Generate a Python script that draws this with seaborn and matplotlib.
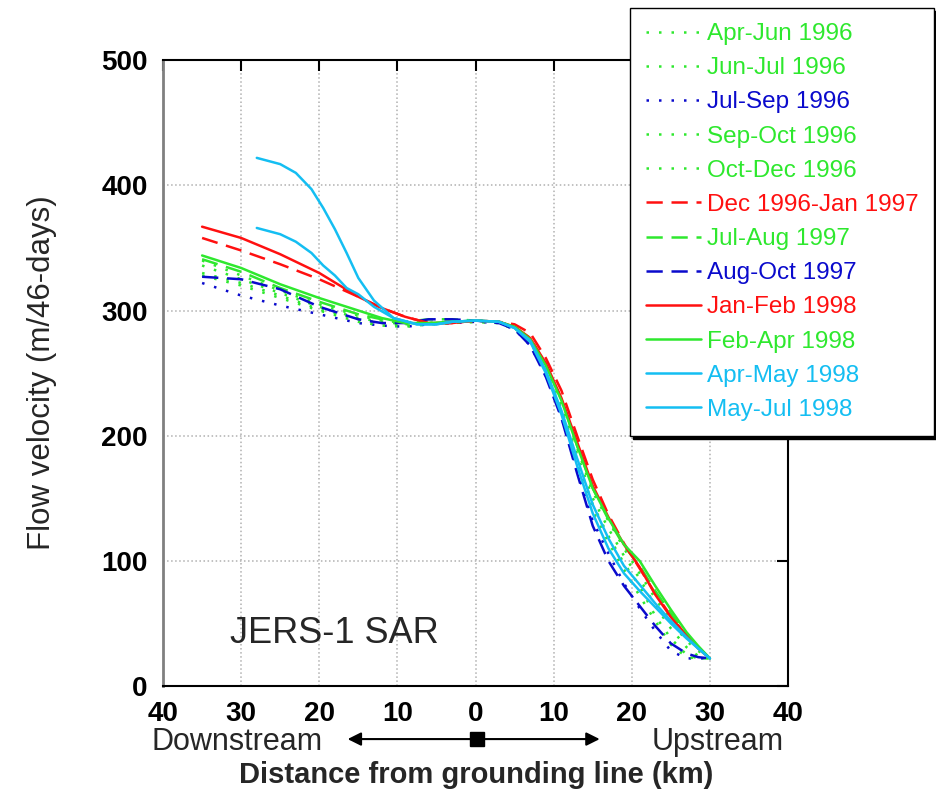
import pandas as pd
import seaborn as sns
import matplotlib.pyplot as plt
from matplotlib.ticker import FuncFormatter

# ---------------------------------------------------------------------
# data (x: km from grounding line, downstream < 0)
# ---------------------------------------------------------------------
X_MAIN = [-35, -30, -25, -20, -15, -12, -9, -6, -3, 0, 3, 5, 7, 9, 11,
          13, 15, 17, 19, 21, 23, 25, 27, 28.5, 30]
X_CYAN = [-28, -25, -23, -21, -19.5, -18, -16.5, -15, -13, -10.5, -7.5, -5,
          -3, 0, 3, 5, 7, 9, 11, 13, 15, 17, 19, 21, 23, 25, 27, 28.5, 30]

APR_JUN_1996 = [340, 328, 316, 305, 296, 292, 290, 290, 291, 292, 291, 286, 276,
                254, 224, 190, 155, 132, 110, 90, 70, 52, 36, 28, 22]
JUN_JUL_1996 = [330, 322, 312, 301, 293, 290, 288, 289, 290, 291, 290, 285, 273,
                249, 217, 180, 145, 120, 98, 80, 56, 38, 25, 22, 22]
JUL_SEP_1996 = [322, 312, 304, 297, 290, 288, 287, 289, 290, 291, 290, 285, 272,
                248, 215, 172, 132, 106, 82, 62, 44, 28, 22, 22, 22]
SEP_OCT_1996 = [336, 325, 314, 303, 294, 291, 289, 290, 291, 292, 291, 286, 275,
                252, 221, 185, 150, 126, 104, 86, 64, 46, 31, 24, 22]
OCT_DEC_1996 = [328, 320, 310, 300, 291, 288, 287, 289, 290, 291, 290, 285, 273,
                249, 216, 178, 140, 115, 93, 72, 52, 33, 23, 22, 22]
DEC96_JAN97 = [358, 348, 337, 325, 311, 302, 295, 290, 290, 292, 291, 289, 282,
               262, 236, 200, 165, 137, 114, 94, 74, 56, 40, 30, 22]
JUL_AUG_1997 = [341, 331, 318, 307, 297, 293, 291, 293, 293, 292, 291, 287, 278,
                257, 229, 192, 158, 133, 112, 96, 76, 58, 41, 31, 22]
AUG_OCT_1997 = [327, 325, 317, 303, 293, 290, 290, 293, 293, 292, 290, 285, 272,
                247, 214, 170, 128, 100, 80, 64, 48, 34, 26, 23, 22]
JAN_FEB_1998 = [367, 358, 345, 330, 311, 302, 295, 290, 290, 292, 291, 287, 278,
                258, 230, 195, 160, 135, 113, 95, 73, 55, 40, 31, 22]
FEB_APR_1998 = [344, 334, 321, 310, 300, 294, 290, 290, 291, 292, 291, 287, 277,
                256, 228, 192, 158, 134, 113, 100, 80, 61, 43, 32, 22]
APR_MAY_1998 = [422, 417, 410, 397, 382, 365, 346, 326, 308, 294, 289, 289, 291,
                292, 291, 286, 276, 252, 220, 182, 145, 118, 96, 81, 66, 52, 39, 30, 22]
MAY_JUL_1998 = [366, 361, 355, 346, 336, 328, 318, 313, 303, 294, 289, 289, 291,
                292, 291, 286, 275, 250, 217, 176, 138, 110, 90, 76, 63, 50, 38, 30, 22]

PERIODS = ["Apr-Jun 1996", "Jun-Jul 1996", "Jul-Sep 1996", "Sep-Oct 1996",
           "Oct-Dec 1996", "Dec 1996-Jan 1997", "Jul-Aug 1997", "Aug-Oct 1997",
           "Jan-Feb 1998", "Feb-Apr 1998", "Apr-May 1998", "May-Jul 1998"]
SERIES = [APR_JUN_1996, JUN_JUL_1996, JUL_SEP_1996, SEP_OCT_1996, OCT_DEC_1996,
          DEC96_JAN97, JUL_AUG_1997, AUG_OCT_1997, JAN_FEB_1998, FEB_APR_1998,
          APR_MAY_1998, MAY_JUL_1998]

GREEN, BLUE, RED, CYAN = "#2EE82E", "#0A0ACC", "#FF1010", "#14BEF2"
COLORS = [GREEN, GREEN, BLUE, GREEN, GREEN, RED, GREEN, BLUE, RED, GREEN, CYAN, CYAN]
DOT, DASH, SOLID = (1, 4), (6.5, 3.5), ""
STYLES = [DOT, DOT, DOT, DOT, DOT, DASH, DASH, DASH, SOLID, SOLID, SOLID, SOLID]

rows = []
for name, vals in zip(PERIODS, SERIES):
    xs = X_CYAN if len(vals) == len(X_CYAN) else X_MAIN
    for x, v in zip(xs, vals):
        rows.append({"distance": x, "velocity": v, "period": name})
df = pd.DataFrame(rows)

# ---------------------------------------------------------------------
# plot
# ---------------------------------------------------------------------
sns.set_theme(style="white")
plt.rcParams["font.family"] = ["Liberation Sans", "DejaVu Sans"]

fig = plt.figure(figsize=(9.37, 7.93), dpi=100)
ax = fig.add_axes([0.174, 0.135, 0.667, 0.789])

sns.lineplot(
    data=df, x="distance", y="velocity", hue="period", style="period",
    hue_order=PERIODS, style_order=PERIODS,
    palette=dict(zip(PERIODS, COLORS)), dashes=dict(zip(PERIODS, STYLES)),
    estimator=None, sort=False, linewidth=1.8, ax=ax,
)

ax.set_xlim(-40, 40)
ax.set_ylim(0, 500)
ax.set_xticks(range(-40, 41, 10))
ax.set_yticks(range(0, 501, 100))
ax.xaxis.set_major_formatter(FuncFormatter(lambda v, p: f"{abs(int(v))}"))
ax.grid(True, linestyle=":", color="#b0b0b0", linewidth=1.1)
ax.tick_params(direction="in", length=8, width=1.5, top=True, right=True,
               labelsize=20, colors="black", pad=11)
for lbl in ax.get_xticklabels() + ax.get_yticklabels():
    lbl.set_fontweight("bold")
for side in ["top", "bottom", "right"]:
    ax.spines[side].set_color("black")
    ax.spines[side].set_linewidth(1.5)
ax.spines["left"].set_color("#808080")
ax.spines["left"].set_linewidth(2)

ax.set_xlabel("")
ax.set_ylabel("Flow velocity (m/46-days)", fontsize=22.5, labelpad=32)

ax.text(-31.4, 42, "JERS-1 SAR", fontsize=26, va="center", ha="left")

handles, labels = ax.get_legend_handles_labels()
ax.legend(
    handles, labels, loc="upper right", bbox_to_anchor=(0.997, 0.99),
    bbox_transform=fig.transFigure, borderaxespad=0, fontsize=17.5,
    labelcolor="linecolor", handlelength=2.3, handletextpad=0.25,
    labelspacing=0.5, borderpad=0.62, fancybox=False, framealpha=1,
    edgecolor="black", shadow={"color": "black", "alpha": 1},
)

# downstream / upstream annotation below the axis
fig.text(0.253, 0.064, "Downstream", fontsize=22, ha="center", va="center")
fig.text(0.766, 0.064, "Upstream", fontsize=22, ha="center", va="center")
ax.annotate("", xy=(0.371, 0.068), xytext=(0.640, 0.068), xycoords="figure fraction",
            arrowprops=dict(arrowstyle="<|-|>", color="black", lw=1.5,
                            mutation_scale=20, shrinkA=0, shrinkB=0))
fig.lines.append(plt.Line2D([0.509], [0.068], marker="s", markersize=10, color="black",
                            transform=fig.transFigure))
fig.text(0.508, 0.023, "Distance from grounding line (km)", fontsize=21,
         fontweight="bold", ha="center", va="center")

fig.savefig("out.png", dpi=100)
